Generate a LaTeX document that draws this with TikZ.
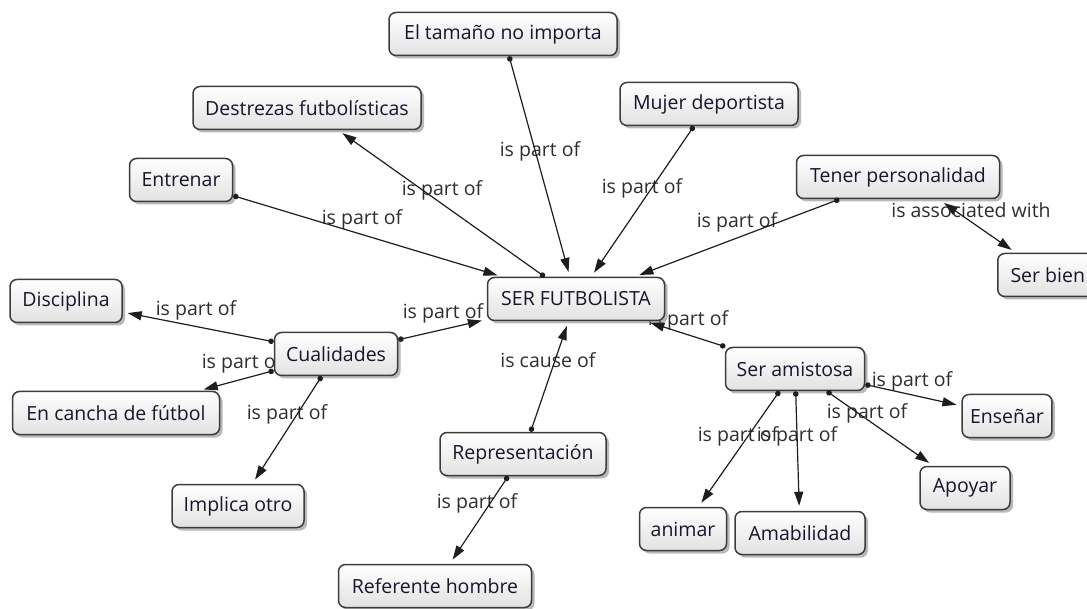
\documentclass[tikz,border=0pt]{standalone}
\usepackage{fontspec}
\setmainfont{Open Sans}
\usetikzlibrary{arrows.meta,shadows}
\pgfdeclarelayer{labels}
\pgfdeclarelayer{edges}
\pgfsetlayers{labels,main,edges}
\definecolor{boxborder}{HTML}{3C3C3C}
\definecolor{boxbottom}{HTML}{E2E2E2}
\definecolor{conceptText}{HTML}{16162E}
\definecolor{labelcol}{HTML}{2E2E2E}
\definecolor{linkcol}{HTML}{1E1E1E}
\begin{document}
\begin{tikzpicture}[x=1pt,y=-1pt,
  concept/.style={draw=boxborder, line width=1.5pt, rounded corners=7pt,
    top color=white, bottom color=boxbottom, minimum height=43pt,
    inner xsep=8pt, text=conceptText, font=\fontsize{19.5}{22}\selectfont,
    drop shadow={shadow xshift=3pt, shadow yshift=-3pt, opacity=0.55}},
  link/.style={draw=linkcol, line width=1.2pt,
    {Circle[length=5.5pt]}-{Triangle[length=14pt,width=9pt]}, shorten >=5pt},
  biarrow/.style={draw=linkcol, line width=1.2pt,
    {Triangle[length=14pt,width=9pt]}-{Triangle[length=14pt,width=9pt]}, shorten >=5pt},
  lbl/.style={text=labelcol, font=\fontsize{19.5}{22}\selectfont, inner sep=0pt}]
\useasboundingbox (0,0) rectangle (1087,609);

% concepts
\node[concept, minimum width=228pt] (tamano)    at (503,34)  {El tamaño no importa};
\node[concept, minimum width=228pt] (destrezas) at (307,108) {Destrezas futbolísticas};
\node[concept, minimum width=178pt] (mujer)     at (709,104) {Mujer deportista};
\node[concept, minimum width=103pt] (entrenar)  at (181,180) {Entrenar};
\node[concept, minimum width=203pt] (tener)     at (898,177) {Tener personalidad};
\node[concept, minimum width=100pt, anchor=west] (serbien) at (997,275) {Ser bien};
\node[concept, minimum width=177pt] (ser)       at (576,299) {SER FUTBOLISTA};
\node[concept, minimum width=112pt] (disciplina) at (66,301) {Disciplina};
\node[concept, minimum width=123pt] (cualidades) at (336,354) {Cualidades};
\node[concept, minimum width=207pt] (cancha)    at (116,413) {En cancha de fútbol};
\node[concept, minimum width=139pt] (amistosa)  at (795,369) {Ser amistosa};
\node[concept, minimum width=89pt]  (ensenar)   at (1007,416) {Enseñar};
\node[concept, minimum width=166pt] (represent) at (523,454) {Representación};
\node[concept, minimum width=132pt] (implica)   at (238,506) {Implica otro};
\node[concept, minimum width=90pt]  (apoyar)    at (965,488) {Apoyar};
\node[concept, minimum width=87pt]  (animar)    at (683,529) {animar};
\node[concept, minimum width=130pt] (amabilidad) at (800,533) {Amabilidad};
\node[concept, minimum width=193pt] (referente) at (435,586) {Referente hombre};

% linking phrases
\begin{pgfonlayer}{labels}
\fill[white] (0,0) rectangle (1087,609);
\node[lbl] (l1)  at (540,151) {is part of};
\node[lbl] (l2)  at (442,190) {is part of};
\node[lbl] (l3)  at (642,188) {is part of};
\node[lbl] (l4)  at (362,219) {is part of};
\node[lbl] (l5)  at (737,222) {is part of};
\node[lbl] (l6)  at (971,210) {is associated with};
\node[lbl] (l7)  at (443,313) {is part of};
\node[lbl] (l8)  at (196,310) {is part of};
\node[lbl] (l9)  at (242,363) {is part of};
\node[lbl] (l10) at (287,414) {is part of};
\node[lbl] (l11) at (548,360) {is cause of};
\node[lbl] (l12) at (477,503) {is part of};
\node[lbl] (l13) at (688,320) {is part of};
\node[lbl] (l14) at (912,381) {is part of};
\node[lbl] (l15) at (867,413) {is part of};
\node[lbl] (l16) at (738,436) {is part of};
\node[lbl] (l17) at (797,436) {is part of};
\end{pgfonlayer}

\coordinate (assoc) at (944,203);

% connectors
\begin{pgfonlayer}{edges}
\draw[link] (tamano) -- (ser);
\draw[link] (ser) -- (destrezas);
\draw[link] (mujer) -- (ser);
\draw[link] (entrenar) -- (ser);
\draw[link] (tener) -- (ser);
\draw[biarrow] (assoc) -- (serbien);
\draw[link] (cualidades) -- (ser);
\draw[link] (cualidades) -- (disciplina);
\draw[link] (cualidades) -- (cancha);
\draw[link] (cualidades) -- (implica);
\draw[link] (represent) -- (ser);
\draw[link] (represent) -- (referente);
\draw[link] (amistosa) -- (ser);
\draw[link] (amistosa) -- (ensenar);
\draw[link] (amistosa) -- (apoyar);
\draw[link] (amistosa) -- (animar);
\draw[link] (amistosa) -- (amabilidad);
\end{pgfonlayer}
\end{tikzpicture}
\end{document}
